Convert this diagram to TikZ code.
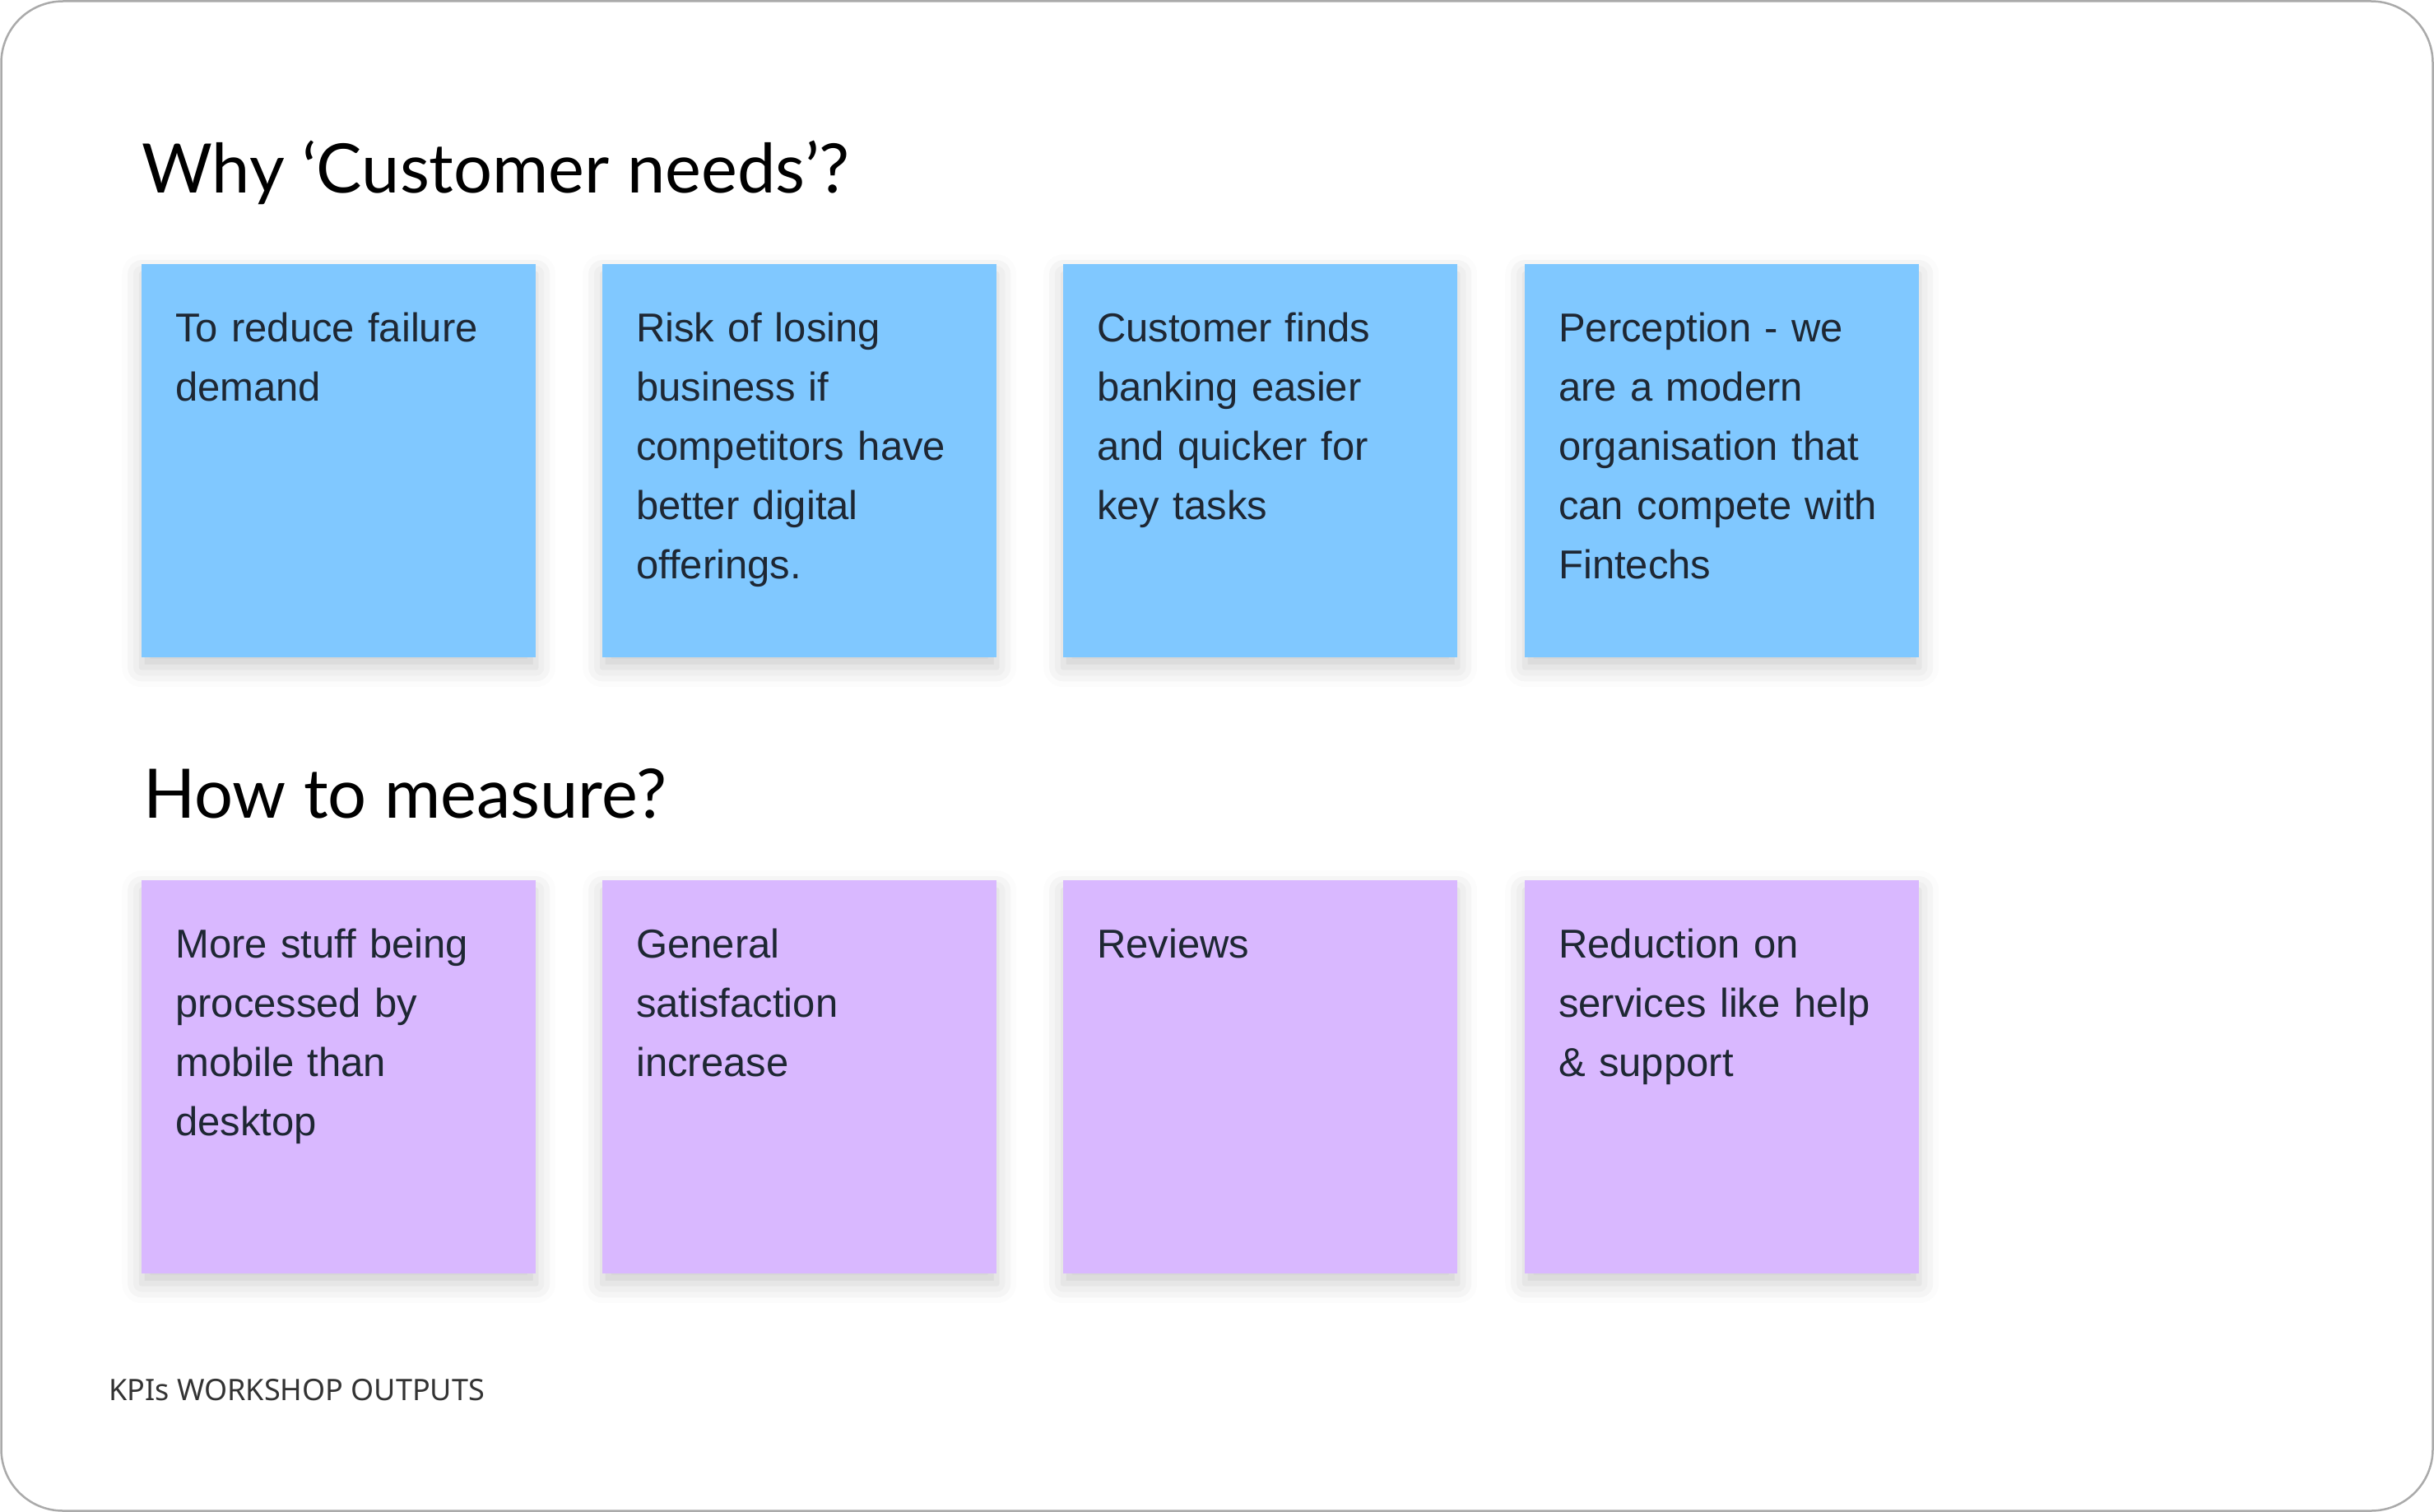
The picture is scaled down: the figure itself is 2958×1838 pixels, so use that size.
\documentclass[tikz,border=0pt]{standalone}
\usepackage{fontspec}
\setmainfont{Liberation Sans}
\newfontfamily\titlefont{Lato}
\newfontfamily\footfont{Noto Sans}
\usetikzlibrary{shadows.blur}
\definecolor{bluesticky}{HTML}{80C8FF}
\definecolor{purplesticky}{HTML}{D9B8FF}
\definecolor{stickytext}{HTML}{1E2733}
\definecolor{framegray}{HTML}{AAAAAA}
\definecolor{footergray}{HTML}{333333}
\begin{document}
\begin{tikzpicture}[x=1pt,y=-1pt,
  stickybox/.style={draw=none, minimum width=479pt, minimum height=478pt, anchor=north west, inner sep=0pt,
    blur shadow={shadow xshift=0pt, shadow yshift=-12pt, shadow blur radius=24pt, shadow opacity=20}},
  bluebox/.style={stickybox, fill=bluesticky},
  purplebox/.style={stickybox, fill=purplesticky},
  stickylabel/.style={anchor=base west, inner sep=0pt, text width=430pt, align=left, text=stickytext,
    font=\fontsize{49}{72}\selectfont},
  heading/.style={anchor=base west, inner sep=0pt, text=black, font=\titlefont\fontsize{83}{100}\selectfont},
  footer/.style={anchor=base west, inner sep=0pt, text=footergray, font=\footfont\fontsize{36}{40}\selectfont}]
\useasboundingbox (0,0) rectangle (2958,1838);
\draw[framegray, line width=2.5pt, rounded corners=75pt] (1.5,1.5) rectangle (2956.5,1836.5);

\node[heading] (h1) at (172,234) {Why ‘Customer needs’?};
\node[heading] (h2) at (174,994) {How to measure?};

\node[bluebox] (b1) at (172,321) {};
\node[bluebox] (b2) at (732,321) {};
\node[bluebox] (b3) at (1292,321) {};
\node[bluebox] (b4) at (1853,321) {};
\node[purplebox] (p1) at (172,1070) {};
\node[purplebox] (p2) at (732,1070) {};
\node[purplebox] (p3) at (1292,1070) {};
\node[purplebox] (p4) at (1853,1070) {};

\node[stickylabel] (tb1) at (213,415) {To reduce failure\\demand};
\node[stickylabel] (tb2) at (773,415) {Risk of losing\\business if\\competitors have\\better digital\\offerings.};
\node[stickylabel] (tb3) at (1333,415) {Customer finds\\banking easier\\and quicker for\\key tasks};
\node[stickylabel] (tb4) at (1894,415) {Perception - we\\are a modern\\organisation that\\can compete with\\Fintechs};
\node[stickylabel] (tp1) at (213,1164) {More stuff being\\processed by\\mobile than\\desktop};
\node[stickylabel] (tp2) at (773,1164) {General\\satisfaction\\increase};
\node[stickylabel] (tp3) at (1333,1164) {Reviews};
\node[stickylabel] (tp4) at (1894,1164) {Reduction on\\services like help\\\& support};

\node[footer] (ft) at (132,1702) {KPIs WORKSHOP OUTPUTS};
\end{tikzpicture}
\end{document}
